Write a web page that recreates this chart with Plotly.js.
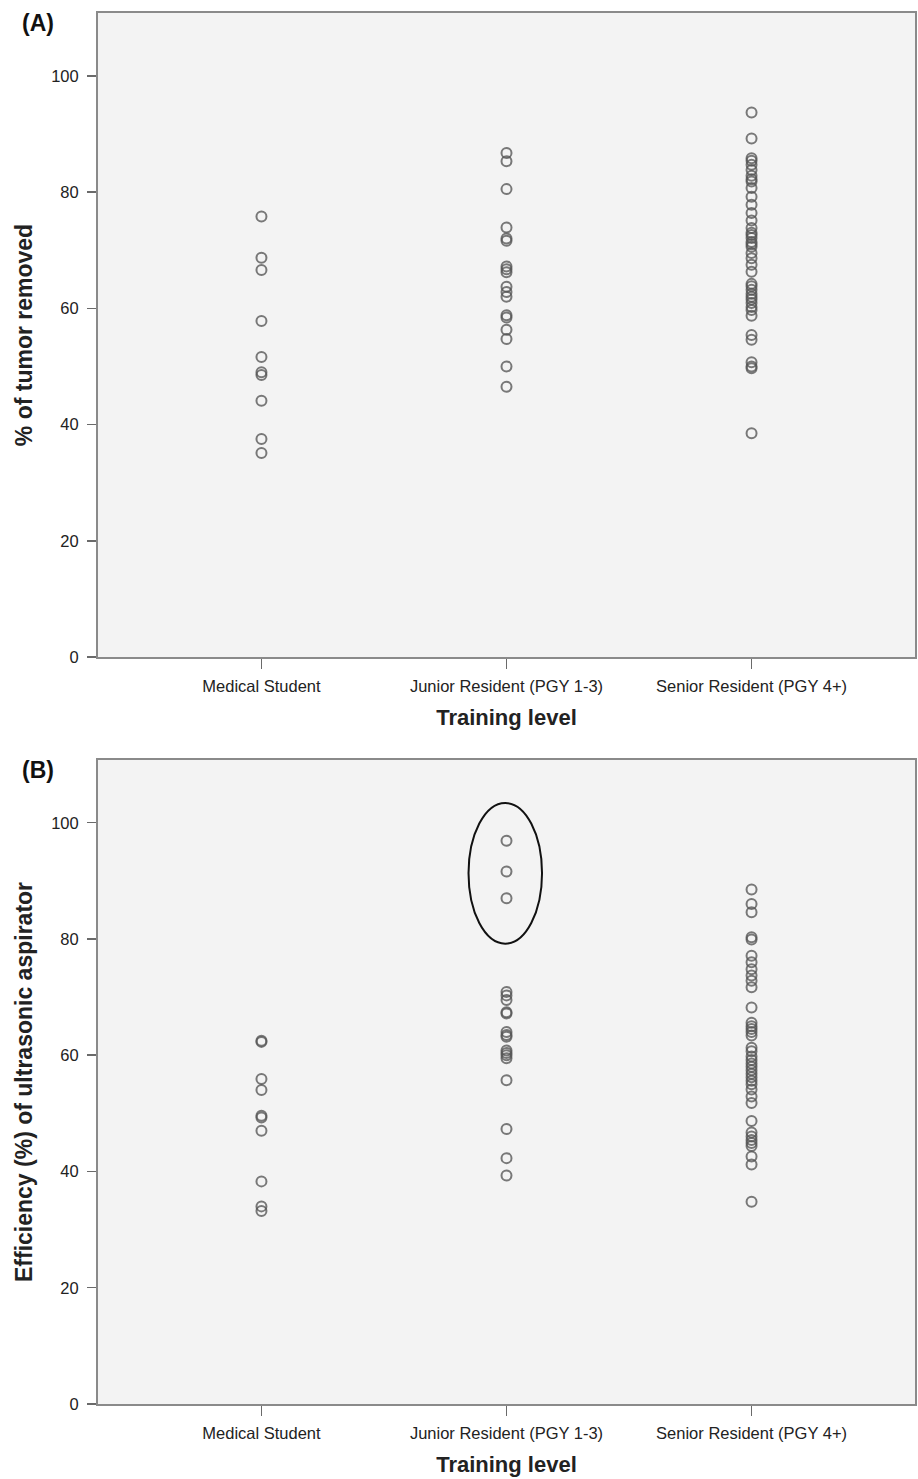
<!DOCTYPE html>
<html>
<head>
<meta charset="utf-8">
<script src="https://cdn.plot.ly/plotly-3.0.1.min.js"></script>
<style>html,body{margin:0;padding:0;background:#fff;}#chart{width:918px;height:1479px;}</style>
</head>
<body>
<div id="chart"></div>
<script>
// Categories (x axis)
const categories = ["Medical Student", "Junior Resident (PGY 1-3)", "Senior Resident (PGY 4+)"];

// Panel A: % of tumor removed
const medicalA = [75.8, 68.7, 66.6, 57.8, 51.6, 49.0, 48.5, 44.1, 37.5, 35.1];
const juniorA = [86.7, 85.3, 80.5, 73.9, 72.0, 71.6, 67.2, 66.7, 66.2, 63.7, 62.8, 62.0, 58.8, 58.4, 56.3, 54.7, 50.0, 46.5];
const seniorA = [93.7, 89.2, 85.8, 85.4, 84.7, 83.8, 82.8, 82.2, 81.8, 80.7, 79.2, 77.8, 76.4, 75.1, 73.8, 73.0, 72.6, 72.1, 71.4, 71.0, 70.6, 69.5, 68.6, 67.5, 66.3, 64.2, 63.8, 63.2, 62.5, 62.0, 61.5, 60.9, 60.2, 59.7, 58.7, 55.4, 54.6, 50.7, 50.0, 49.7, 38.5];

// Panel B: Efficiency (%) of ultrasonic aspirator
const medicalB = [62.5, 62.3, 55.9, 54.0, 49.6, 49.3, 47.0, 38.3, 34.0, 33.2];
const juniorB = [96.9, 91.6, 87.0, 70.9, 70.3, 69.5, 67.4, 67.2, 64.0, 63.5, 63.2, 60.8, 60.4, 60.0, 59.5, 55.7, 47.3, 42.3, 39.3];
const seniorB = [88.5, 86.0, 84.6, 80.3, 79.9, 77.1, 76.0, 74.8, 73.7, 72.8, 71.7, 68.2, 65.6, 65.0, 64.5, 64.0, 63.4, 61.3, 60.7, 59.8, 59.2, 58.6, 58.0, 57.4, 56.8, 56.2, 55.6, 55.0, 54.1, 52.9, 51.8, 48.7, 46.7, 46.0, 45.4, 44.9, 44.4, 42.6, 41.2, 34.8];

// Circled range of junior residents in panel B (low, high)
const circledRange = [79.2, 103.4];

const yTicks = [0, 20, 40, 60, 80, 100];

const marker = {symbol: "circle-open", size: 10, color: "rgba(85,85,85,0.78)", line: {width: 2, color: "rgba(85,85,85,0.78)"}};

function series(values, cat, xa, ya) {
  return {type: "scatter", mode: "markers", x: values.map(() => cat), y: values, xaxis: xa, yaxis: ya, marker: marker, hoverinfo: "y", showlegend: false};
}

const data = [
  series(medicalA, categories[0], "x", "y"),
  series(juniorA, categories[1], "x", "y"),
  series(seniorA, categories[2], "x", "y"),
  series(medicalB, categories[0], "x2", "y2"),
  series(juniorB, categories[1], "x2", "y2"),
  series(seniorB, categories[2], "x2", "y2")
];

const font = "Liberation Sans, Arial, sans-serif";
function xax(anchor) {
  return {
    anchor: anchor, domain: [0, 1], type: "category", categoryarray: categories, categoryorder: "array",
    range: [-0.667, 2.667], showline: true, mirror: true, linecolor: "#8a8a8a", linewidth: 2,
    ticks: "outside", ticklen: 10, tickwidth: 1.5, tickcolor: "#6a6a6a", showgrid: false, zeroline: false,
    ticklabelstandoff: 3,
    tickfont: {family: font, size: 16.5, color: "#222"},
    title: {text: "<b>Training level</b>", font: {family: font, size: 22, color: "#222"}, standoff: 16}
  };
}
function yax(anchor, domain, title) {
  return {
    anchor: anchor, domain: domain, range: [0, 110.8], tickvals: yTicks, showline: true, mirror: true,
    linecolor: "#8a8a8a", linewidth: 2, ticks: "outside", ticklen: 9, tickwidth: 1.5, tickcolor: "#6a6a6a",
    ticklabelstandoff: 5,
    showgrid: false, zeroline: false, tickfont: {family: font, size: 16.5, color: "#222"},
    title: {text: "<b>" + title + "</b>", font: {family: font, size: 23, color: "#222"}, standoff: 12}
  };
}

const layout = {
  width: 918, height: 1479,
  margin: {l: 98, r: 3, t: 13, b: 75},
  paper_bgcolor: "#ffffff", plot_bgcolor: "#f3f3f3",
  xaxis: xax("y"),
  yaxis: yax("x", [0.537, 1], "% of tumor removed"),
  xaxis2: xax("y2"),
  yaxis2: yax("x2", [0, 0.463], "Efficiency (%) of ultrasonic aspirator"),
  shapes: [{
    type: "circle", xref: "x2", yref: "y2", x0: 0.845, x1: 1.145,
    y0: circledRange[0], y1: circledRange[1], line: {color: "#111", width: 2}
  }],
  annotations: [
    {text: "<b>(A)</b>", xref: "paper", yref: "paper", x: -0.074, y: 0.993, showarrow: false, xanchor: "center", yanchor: "middle", font: {family: font, size: 23, color: "#111"}},
    {text: "<b>(B)</b>", xref: "paper", yref: "paper", x: -0.074, y: 0.456, showarrow: false, xanchor: "center", yanchor: "middle", font: {family: font, size: 23, color: "#111"}}
  ]
};

Plotly.newPlot("chart", data, layout, {staticPlot: true, displayModeBar: false});
</script>
</body>
</html>
